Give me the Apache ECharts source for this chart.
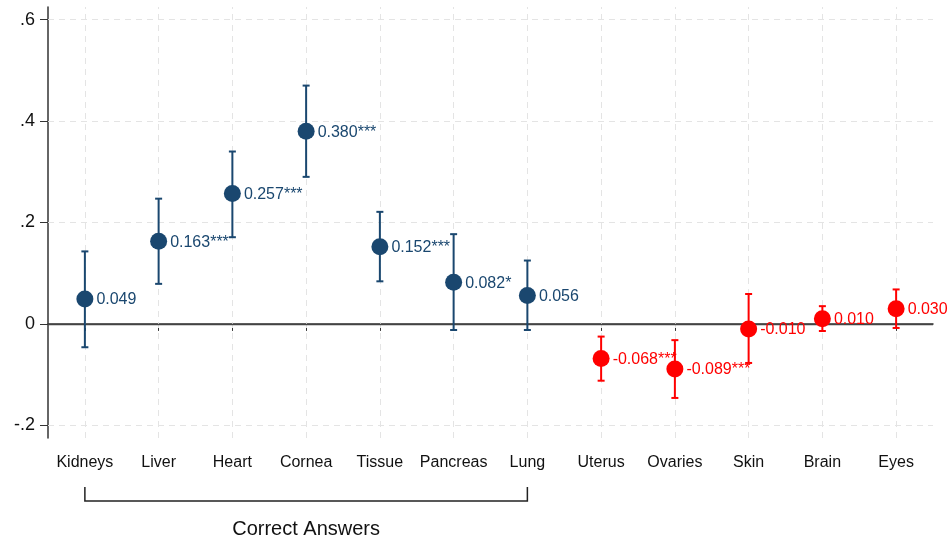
<!DOCTYPE html>
<html>
<head>
<meta charset="utf-8">
<script src="https://cdn.jsdelivr.net/npm/echarts@6/dist/echarts.min.js"></script>
<style>
  html, body { margin: 0; padding: 0; background: #fff; }
  #chart { width: 951px; height: 541px; }
</style>
</head>
<body>
<div id="chart"></div>
<script>
// Organ categories; the first seven are the correct answers
const categories = ['Kidneys', 'Liver', 'Heart', 'Cornea', 'Tissue', 'Pancreas', 'Lung',
                    'Uterus', 'Ovaries', 'Skin', 'Brain', 'Eyes'];
const correctCount = 7;

// Point estimates, significance stars and 95% confidence bounds
const estimates = [0.049, 0.163, 0.257, 0.380, 0.152, 0.082, 0.056,
                   -0.068, -0.089, -0.010, 0.010, 0.030];
const stars = ['', '***', '***', '***', '***', '*', '', '***', '***', '', '', ''];
const ciLow = [-0.046, 0.079, 0.171, 0.290, 0.084, -0.012, -0.012,
               -0.112, -0.146, -0.077, -0.014, -0.008];
const ciHigh = [0.143, 0.247, 0.340, 0.470, 0.221, 0.177, 0.125,
                -0.025, -0.032, 0.059, 0.035, 0.068];

// Y axis ticks and visible range
const yTicks = [-0.2, 0, 0.2, 0.4, 0.6];
const yMin = -0.225;
const yMax = 0.625;

const groupLabel = 'Correct Answers';

const NAVY = '#1a476f';
const RED = '#ff0000';
const FONT = '"Liberation Sans", Arial, Helvetica, sans-serif';
const colorOf = i => (i < correctCount ? NAVY : RED);

const gridDash = { color: '#e4e4e4', width: 1, type: [6, 5] };

const chart = echarts.init(document.getElementById('chart'), null, { renderer: 'canvas' });

chart.setOption({
  animation: false,
  backgroundColor: '#fff',
  grid: { left: 48, right: 18, top: 7, bottom: 103 },
  xAxis: {
    type: 'category',
    data: categories,
    boundaryGap: true,
    axisLine: { show: true, lineStyle: { color: '#333', width: 1.5 } },
    axisTick: { show: true, alignWithLabel: true, length: 7, lineStyle: { color: '#333', width: 1 } },
    axisLabel: { color: '#111', fontSize: 16, fontFamily: FONT, margin: 17, interval: 0 },
    splitLine: { show: false }
  },
  yAxis: {
    type: 'value',
    min: yMin,
    max: yMax,
    axisLine: { show: true, lineStyle: { color: '#333', width: 1.5 } },
    axisTick: { show: true, length: 8, customValues: yTicks, lineStyle: { color: '#333', width: 1 } },
    axisLabel: {
      customValues: yTicks,
      color: '#111',
      fontSize: 18,
      fontFamily: FONT,
      margin: 13,
      formatter: v => (Math.abs(v) < 1e-9 ? '0' : v.toFixed(1).replace('0.', '.'))
    },
    splitLine: { show: false }
  },
  series: [
    // Dashed background grid and the solid zero reference line
    {
      type: 'line',
      data: [],
      z: 1,
      silent: true,
      markLine: {
        z: 1,
        silent: true,
        symbol: ['none', 'none'],
        label: { show: false },
        lineStyle: gridDash,
        data: [
          ...categories.map(c => ({ xAxis: c })),
          ...yTicks.filter(t => t !== 0).map(t => ({ yAxis: t })),
          { yAxis: 0, lineStyle: { color: '#444', width: 1.3, type: 'solid' } }
        ]
      }
    },
    // Confidence-interval whiskers with caps
    {
      type: 'custom',
      z: 6,
      data: categories.map((c, i) => [i, ciLow[i], ciHigh[i]]),
      encode: { x: 0, y: [1, 2] },
      renderItem: (params, api) => {
        const i = api.value(0);
        const lo = api.coord([i, api.value(1)]);
        const hi = api.coord([i, api.value(2)]);
        const cap = 3.5;
        const style = { stroke: colorOf(i), lineWidth: 2 };
        return {
          type: 'group',
          children: [
            { type: 'line', shape: { x1: lo[0], y1: lo[1], x2: hi[0], y2: hi[1] }, style },
            { type: 'line', shape: { x1: lo[0] - cap, y1: lo[1], x2: lo[0] + cap, y2: lo[1] }, style },
            { type: 'line', shape: { x1: hi[0] - cap, y1: hi[1], x2: hi[0] + cap, y2: hi[1] }, style }
          ]
        };
      }
    },
    // Point estimates with their labels
    {
      type: 'scatter',
      z: 7,
      symbol: 'circle',
      symbolSize: 17,
      itemStyle: { opacity: 1 },
      data: estimates.map((v, i) => ({
        value: [i, v],
        itemStyle: { color: colorOf(i), opacity: 1 },
        label: { color: colorOf(i) }
      })),
      label: {
        show: true,
        position: 'right',
        distance: 3,
        offset: [0, 1],
        fontSize: 16,
        fontFamily: FONT,
        formatter: p => estimates[p.dataIndex].toFixed(3) + stars[p.dataIndex]
      }
    },
    // Bracket grouping the correct answers, with its caption
    {
      type: 'custom',
      z: 6,
      silent: true,
      clip: false,
      data: [[0, correctCount - 1, yMin]],
      encode: { x: [0, 1], y: 2 },
      renderItem: (params, api) => {
        const a = api.coord([api.value(0), api.value(2)]);
        const b = api.coord([api.value(1), api.value(2)]);
        const top = a[1] + 49;
        const bottom = a[1] + 63;
        const style = { stroke: '#222', lineWidth: 1.5, fill: null };
        return {
          type: 'group',
          children: [
            {
              type: 'polyline',
              shape: { points: [[a[0], top], [a[0], bottom], [b[0], bottom], [b[0], top]] },
              style
            },
            {
              type: 'text',
              style: {
                x: (a[0] + b[0]) / 2,
                y: a[1] + 91,
                text: groupLabel,
                fill: '#111',
                font: '20px ' + FONT,
                textAlign: 'center',
                textVerticalAlign: 'middle'
              }
            }
          ]
        };
      }
    }
  ]
});
</script>
</body>
</html>
